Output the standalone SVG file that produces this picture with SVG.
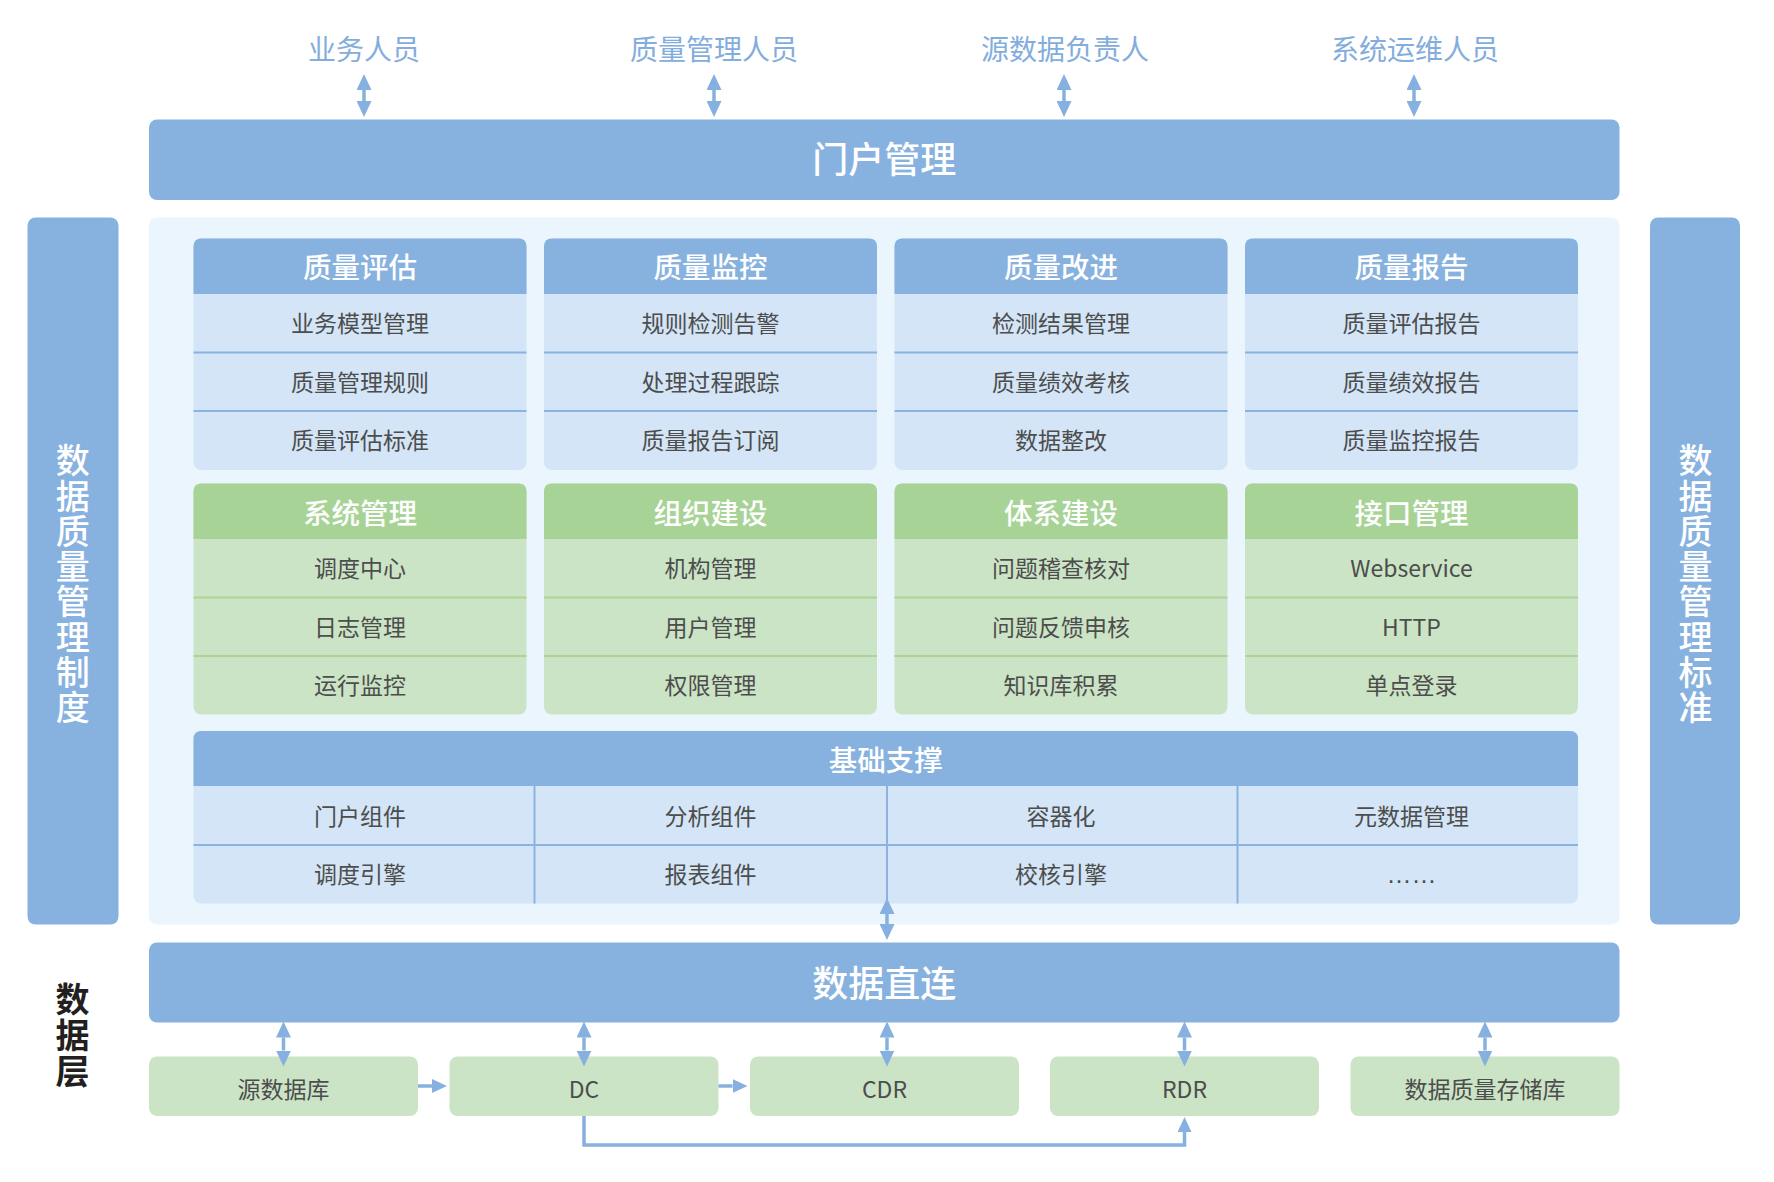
<svg xmlns="http://www.w3.org/2000/svg" width="1774" height="1182" viewBox="0 0 1774 1182">
<defs>
<style>
.t{font-family:"Noto Sans CJK SC","Noto Sans",sans-serif;}
.top{font-size:28px;fill:#83addd;text-anchor:middle;}
.big{font-size:36px;fill:#ffffff;text-anchor:middle;font-weight:500;}
.hd{font-size:28.5px;fill:#ffffff;text-anchor:middle;font-weight:500;}
.row{font-size:23px;fill:#4d4d4d;text-anchor:middle;}
.side{font-size:34px;fill:#ffffff;text-anchor:middle;font-weight:500;writing-mode:vertical-rl;letter-spacing:1.25px;}
.layer{font-size:34px;fill:#231f20;text-anchor:middle;font-weight:700;writing-mode:vertical-rl;letter-spacing:2px;}
.hblue{fill:#87b2df;}
.rblue{fill:#d3e5f6;}
.hgreen{fill:#a7d396;}
.rgreen{fill:#cbe4c5;}
.dblue{stroke:#8ab3df;stroke-width:2;}
.dgreen{stroke:#a9d49a;stroke-width:2;}
.arr{stroke:#86b0e0;stroke-width:3.5;fill:none;marker-end:url(#ah);marker-start:url(#ah);}
.arr1{stroke:#86b0e0;stroke-width:3.5;fill:none;marker-end:url(#ah2);}
</style>
<marker id="ah" markerUnits="userSpaceOnUse" viewBox="0 0 16 15" markerWidth="16" markerHeight="15" refX="0" refY="7.5" orient="auto-start-reverse">
<path d="M0,0 L16,7.5 L0,15 Z" fill="#86b0e0"/>
</marker>
<marker id="ah2" markerUnits="userSpaceOnUse" viewBox="0 0 15 14" markerWidth="15" markerHeight="14" refX="0" refY="7" orient="auto">
<path d="M0,0 L15,7 L0,14 Z" fill="#86b0e0"/>
</marker>
</defs>

<rect width="1774" height="1182" fill="#ffffff"/>

<!-- top roles -->
<g id="roles" class="t">
<text class="top" x="364" y="59.5">业务人员</text>
<text class="top" x="714" y="59.5">质量管理人员</text>
<text class="top" x="1065" y="59.5">源数据负责人</text>
<text class="top" x="1415" y="59.5">系统运维人员</text>
</g>

<!-- portal -->
<g id="portal">
<rect x="149" y="119.5" width="1470.5" height="80.5" rx="8" class="hblue"/>
<text class="t big" x="884.25" y="172.5">门户管理</text>
</g>

<!-- side bars -->
<g id="left-bar">
<rect x="27.5" y="217.5" width="91" height="707" rx="8" class="hblue"/>
<text class="t side" x="72.7" y="584.5">数据质量管理制度</text>
</g>
<g id="right-bar">
<rect x="1650" y="217.5" width="90" height="707" rx="8" class="hblue"/>
<text class="t side" x="1695.5" y="584.5">数据质量管理标准</text>
</g>

<!-- panel -->
<g id="panel">
<rect x="149" y="217.5" width="1470.5" height="707" rx="8" fill="#eaf5fd"/>
</g>

<!-- blue modules -->
<g id="m-eval">
<rect x="193.5" y="238.5" width="333" height="231.5" rx="8" class="rblue"/>
<path d="M193.5,294 V246.5 Q193.5,238.5 201.5,238.5 H518.5 Q526.5,238.5 526.5,246.5 V294 Z" class="hblue"/>
<line x1="193.5" y1="352.5" x2="526.5" y2="352.5" class="dblue"/>
<line x1="193.5" y1="411" x2="526.5" y2="411" class="dblue"/>
<text class="t hd" x="360" y="278">质量评估</text>
<text class="t row" x="360" y="332">业务模型管理</text>
<text class="t row" x="360" y="390.5">质量管理规则</text>
<text class="t row" x="360" y="449">质量评估标准</text>
</g>
<g id="m-monitor">
<rect x="544" y="238.5" width="333" height="231.5" rx="8" class="rblue"/>
<path d="M544,294 V246.5 Q544,238.5 552,238.5 H869 Q877,238.5 877,246.5 V294 Z" class="hblue"/>
<line x1="544" y1="352.5" x2="877" y2="352.5" class="dblue"/>
<line x1="544" y1="411" x2="877" y2="411" class="dblue"/>
<text class="t hd" x="710.5" y="278">质量监控</text>
<text class="t row" x="710.5" y="332">规则检测告警</text>
<text class="t row" x="710.5" y="390.5">处理过程跟踪</text>
<text class="t row" x="710.5" y="449">质量报告订阅</text>
</g>
<g id="m-improve">
<rect x="894.5" y="238.5" width="333" height="231.5" rx="8" class="rblue"/>
<path d="M894.5,294 V246.5 Q894.5,238.5 902.5,238.5 H1219.5 Q1227.5,238.5 1227.5,246.5 V294 Z" class="hblue"/>
<line x1="894.5" y1="352.5" x2="1227.5" y2="352.5" class="dblue"/>
<line x1="894.5" y1="411" x2="1227.5" y2="411" class="dblue"/>
<text class="t hd" x="1061" y="278">质量改进</text>
<text class="t row" x="1061" y="332">检测结果管理</text>
<text class="t row" x="1061" y="390.5">质量绩效考核</text>
<text class="t row" x="1061" y="449">数据整改</text>
</g>
<g id="m-report">
<rect x="1245" y="238.5" width="333" height="231.5" rx="8" class="rblue"/>
<path d="M1245,294 V246.5 Q1245,238.5 1253,238.5 H1570 Q1578,238.5 1578,246.5 V294 Z" class="hblue"/>
<line x1="1245" y1="352.5" x2="1578" y2="352.5" class="dblue"/>
<line x1="1245" y1="411" x2="1578" y2="411" class="dblue"/>
<text class="t hd" x="1411.5" y="278">质量报告</text>
<text class="t row" x="1411.5" y="332">质量评估报告</text>
<text class="t row" x="1411.5" y="390.5">质量绩效报告</text>
<text class="t row" x="1411.5" y="449">质量监控报告</text>
</g>

<!-- green modules -->
<g id="m-system">
<rect x="193.5" y="483.5" width="333" height="231" rx="8" class="rgreen"/>
<path d="M193.5,539 V491.5 Q193.5,483.5 201.5,483.5 H518.5 Q526.5,483.5 526.5,491.5 V539 Z" class="hgreen"/>
<line x1="193.5" y1="597.5" x2="526.5" y2="597.5" class="dgreen"/>
<line x1="193.5" y1="656" x2="526.5" y2="656" class="dgreen"/>
<text class="t hd" x="360" y="523.5">系统管理</text>
<text class="t row" x="360" y="577">调度中心</text>
<text class="t row" x="360" y="635.5">日志管理</text>
<text class="t row" x="360" y="694">运行监控</text>
</g>
<g id="m-org">
<rect x="544" y="483.5" width="333" height="231" rx="8" class="rgreen"/>
<path d="M544,539 V491.5 Q544,483.5 552,483.5 H869 Q877,483.5 877,491.5 V539 Z" class="hgreen"/>
<line x1="544" y1="597.5" x2="877" y2="597.5" class="dgreen"/>
<line x1="544" y1="656" x2="877" y2="656" class="dgreen"/>
<text class="t hd" x="710.5" y="523.5">组织建设</text>
<text class="t row" x="710.5" y="577">机构管理</text>
<text class="t row" x="710.5" y="635.5">用户管理</text>
<text class="t row" x="710.5" y="694">权限管理</text>
</g>
<g id="m-framework">
<rect x="894.5" y="483.5" width="333" height="231" rx="8" class="rgreen"/>
<path d="M894.5,539 V491.5 Q894.5,483.5 902.5,483.5 H1219.5 Q1227.5,483.5 1227.5,491.5 V539 Z" class="hgreen"/>
<line x1="894.5" y1="597.5" x2="1227.5" y2="597.5" class="dgreen"/>
<line x1="894.5" y1="656" x2="1227.5" y2="656" class="dgreen"/>
<text class="t hd" x="1061" y="523.5">体系建设</text>
<text class="t row" x="1061" y="577">问题稽查核对</text>
<text class="t row" x="1061" y="635.5">问题反馈申核</text>
<text class="t row" x="1061" y="694">知识库积累</text>
</g>
<g id="m-interface">
<rect x="1245" y="483.5" width="333" height="231" rx="8" class="rgreen"/>
<path d="M1245,539 V491.5 Q1245,483.5 1253,483.5 H1570 Q1578,483.5 1578,491.5 V539 Z" class="hgreen"/>
<line x1="1245" y1="597.5" x2="1578" y2="597.5" class="dgreen"/>
<line x1="1245" y1="656" x2="1578" y2="656" class="dgreen"/>
<text class="t hd" x="1411.5" y="523.5">接口管理</text>
<text class="t row" x="1411.5" y="577">Webservice</text>
<text class="t row" x="1411.5" y="635.5">HTTP</text>
<text class="t row" x="1411.5" y="694">单点登录</text>
</g>

<!-- foundation -->
<g id="m-foundation">
<rect x="193.5" y="731" width="1384.5" height="172.5" rx="8" class="rblue"/>
<path d="M193.5,786 V739 Q193.5,731 201.5,731 H1570 Q1578,731 1578,739 V786 Z" class="hblue"/>
<line x1="193.5" y1="845" x2="1578" y2="845" class="dblue"/>
<line x1="534.5" y1="786" x2="534.5" y2="903.5" class="dblue"/>
<line x1="887" y1="786" x2="887" y2="903.5" class="dblue"/>
<line x1="1237.5" y1="786" x2="1237.5" y2="903.5" class="dblue"/>
<text class="t hd" x="885.75" y="770.5">基础支撑</text>
<text class="t row" x="360" y="825.3">门户组件</text>
<text class="t row" x="710.5" y="825.3">分析组件</text>
<text class="t row" x="1061" y="825.3">容器化</text>
<text class="t row" x="1411.5" y="825.3">元数据管理</text>
<text class="t row" x="360" y="882.8">调度引擎</text>
<text class="t row" x="710.5" y="882.8">报表组件</text>
<text class="t row" x="1061" y="882.8">校核引擎</text>
<text x="1411.5" y="883" style="font-family:'Liberation Sans',Arial,sans-serif;font-size:25px;fill:#4d4d4d;text-anchor:middle;">……</text>
</g>

<!-- data direct -->
<g id="direct">
<rect x="149" y="942.5" width="1470.5" height="80" rx="8" class="hblue"/>
<text class="t big" x="884.25" y="997">数据直连</text>
</g>

<!-- data layer label -->
<g id="layer-label">
<text class="t layer" x="72.6" y="1036">数据层</text>
</g>

<!-- bottom stores -->
<g id="n-source">
<rect x="149" y="1056.5" width="269" height="59.5" rx="8" class="rgreen"/>
<text class="t row" x="283.5" y="1097.5">源数据库</text>
</g>
<g id="n-dc">
<rect x="449.5" y="1056.5" width="269" height="59.5" rx="8" class="rgreen"/>
<text class="t row" x="584" y="1097.5">DC</text>
</g>
<g id="n-cdr">
<rect x="750" y="1056.5" width="269" height="59.5" rx="8" class="rgreen"/>
<text class="t row" x="884.5" y="1097.5">CDR</text>
</g>
<g id="n-rdr">
<rect x="1050" y="1056.5" width="269" height="59.5" rx="8" class="rgreen"/>
<text class="t row" x="1184.5" y="1097.5">RDR</text>
</g>
<g id="n-store">
<rect x="1350.5" y="1056.5" width="269" height="59.5" rx="8" class="rgreen"/>
<text class="t row" x="1485" y="1097.5">数据质量存储库</text>
</g>

<!-- connectors -->
<g id="connectors">
<line x1="364" y1="90" x2="364" y2="101" class="arr"/>
<line x1="714" y1="90" x2="714" y2="101" class="arr"/>
<line x1="1064" y1="90" x2="1064" y2="101" class="arr"/>
<line x1="1414" y1="90" x2="1414" y2="101" class="arr"/>
<line x1="887" y1="914" x2="887" y2="924" class="arr"/>
<line x1="283.5" y1="1037.5" x2="283.5" y2="1050.5" class="arr"/>
<line x1="584" y1="1037.5" x2="584" y2="1050.5" class="arr"/>
<line x1="887" y1="1037.5" x2="887" y2="1050.5" class="arr"/>
<line x1="1184.5" y1="1037.5" x2="1184.5" y2="1050.5" class="arr"/>
<line x1="1485" y1="1037.5" x2="1485" y2="1050.5" class="arr"/>
<line x1="418" y1="1086" x2="432" y2="1086" class="arr1"/>
<line x1="718.5" y1="1086" x2="732.5" y2="1086" class="arr1"/>
<polyline points="584,1116 584,1145 1184.5,1145 1184.5,1132" stroke="#86b0e0" stroke-width="3.5" fill="none" marker-end="url(#ah2)"/>
</g>
</svg>
